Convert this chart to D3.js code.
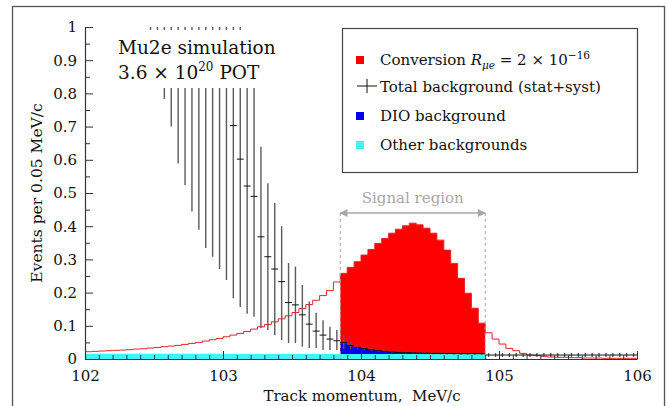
<!DOCTYPE html>
<html lang="en">
<head>
<meta charset="utf-8">
<title>Mu2e signal region</title>
<script src="https://cdn.jsdelivr.net/npm/d3@7"></script>
<style>
  body { margin: 0; background: #fff; }
  text { font-family: "DejaVu Serif", serif; fill: #111; }
</style>
</head>
<body>
<script>
// histogram binning: 0.05 MeV/c bins from 102 to 106
var binLow = 102, binWidth = 0.05;

// conversion signal, R_mue = 2e-16, one value per bin (80 bins)
var conversion = [
  0.022,0.023,0.024,0.025,0.026,0.027,0.028,0.030,0.031,0.033,
  0.035,0.037,0.039,0.041,0.044,0.047,0.050,0.054,0.058,0.062,
  0.067,0.072,0.077,0.083,0.090,0.097,0.104,0.112,0.121,0.130,
  0.140,0.152,0.164,0.177,0.191,0.206,0.232,
  0.258,0.276,0.293,0.313,0.330,0.348,0.363,0.379,0.391,0.401,
  0.409,0.404,0.394,0.379,0.358,0.328,0.288,0.243,0.198,0.153,0.108,
  0.079,0.060,0.045,0.032,0.025,0.017,0.012,0.010,0.008,0.006,
  0.005,0.005,0.004,0.004,0.003,0.003,0.003,0.002,0.002,0.002,0.002,0.002
];

// signal region (bins 37..57 = 103.85 .. 104.90)
var signalFirst = 37, signalLast = 57;
var signalRange = [103.85, 104.90];

// DIO background, signal region bins only
var dioBg = [0.032,0.025,0.020,0.016,0.013,0.010,0.008,0.006,0.005,0.004,0.0035,
             0.003,0.0025,0.002,0.0018,0.0015,0.0013,0.0011,0.0010,0.0009,0.0008];

// other backgrounds, bins 0..57
var otherBg = [
  0.016,0.016,0.016,0.016,0.016,0.016,0.016,0.016,0.016,0.016,
  0.016,0.016,0.016,0.016,0.016,0.016,0.016,0.016,0.016,0.016,
  0.015,0.015,0.015,0.015,0.015,0.015,0.015,0.015,0.015,0.015,
  0.015,0.015,0.015,0.015,0.015,0.015,0.015,0.015,0.015,0.015,
  0.015,0.015,0.015,0.015,0.015,0.015,0.015,0.015,0.015,0.015,
  0.015,0.015,0.015,0.015,0.015,0.015,0.015,0.015
];

// total background (stat+syst), bins 9..79: value, lower and upper end of error bar
var bgFirst = 9;
var bgVal = [
  3.5,3.1,2.7,2.4,2.1,1.85,1.6,1.4,1.2,1.05,0.95,0.84,0.703,0.602,0.521,0.490,
  0.368,0.308,0.271,0.233,0.170,0.163,0.133,0.105,0.084,0.072,0.060,0.055,
  0.050,0.041,0.035,0.031,0.028,0.025,0.023,0.021,0.020,0.019,0.0185,0.018,0.0175,
  0.017,0.017,0.0165,0.0163,0.016,0.016,0.016,0.016,
  0.012,0.012,0.012,0.012,0.012,0.012,0.012,0.012,0.012,0.012,0.012,
  0.012,0.012,0.012,0.012,0.012,0.012,0.012,0.012,0.012,0.012,0.012
];
var bgLo = [
  0.90,0.83,0.783,0.700,0.589,0.524,0.444,0.389,0.334,0.308,0.271,0.238,0.183,0.157,0.136,0.127,
  0.093,0.087,0.072,0.057,0.048,0.048,0.037,0.033,0.033,0.027,0.027,0.027,
  0.030,0.030,0.029,0.027,0.025,0.022,0.020,0.018,0.017,0.016,0.0155,0.015,0.0145,
  0.014,0.014,0.0135,0.0133,0.013,0.013,0.013,0.013,
  0.006,0.006,0.006,0.006,0.006,0.006,0.006,0.006,0.006,0.006,0.006,
  0.006,0.006,0.006,0.006,0.006,0.006,0.006,0.006,0.006,0.006,0.006
];
var bgHi = [
  5.0,4.6,4.2,3.8,3.4,3.0,2.7,2.4,2.1,1.9,1.7,1.5,1.35,1.2,0.90,0.88,
  0.639,0.529,0.470,0.400,0.289,0.278,0.223,0.173,0.139,0.117,0.097,0.087,
  0.072,0.054,0.043,0.036,0.032,0.028,0.026,0.024,0.023,0.022,0.0215,0.021,0.0205,
  0.020,0.020,0.0195,0.0193,0.019,0.019,0.019,0.019,
  0.018,0.018,0.018,0.018,0.018,0.018,0.018,0.018,0.018,0.018,0.018,
  0.018,0.018,0.018,0.018,0.018,0.018,0.018,0.018,0.018,0.018,0.018
];

var xTicks = [102, 103, 104, 105, 106];
var yTicks = [0, 0.1, 0.2, 0.3, 0.4, 0.5, 0.6, 0.7, 0.8, 0.9, 1];
var yLabels = ["0","0.1","0.2","0.3","0.4","0.5","0.6","0.7","0.8","0.9","1"];

var W = 667, H = 406;
var svg = d3.select("body").append("svg").attr("width", W).attr("height", H);

var x = d3.scaleLinear().domain([102, 106]).range([85, 637]);
var y = d3.scaleLinear().domain([0, 1]).range([359, 27]);

function edge(k) { return binLow + binWidth * k; }

// outer frame
svg.append("rect").attr("x", 12.5).attr("y", 6.5).attr("width", 652).attr("height", 420)
  .attr("fill", "none").attr("stroke", "#555").attr("stroke-width", 1.3);

svg.append("clipPath").attr("id", "plotclip").append("rect")
  .attr("x", x(102)).attr("y", y(1)).attr("width", x(106) - x(102)).attr("height", y(0) - y(1));

var plot = svg.append("g").attr("clip-path", "url(#plotclip)");

// step helpers
function stepPoints(vals, first) {
  var pts = vals.map(function(v, i) { return [edge(first + i), v]; });
  pts.push([edge(first + vals.length), vals[vals.length - 1]]);
  return pts;
}
var stepLine = d3.line().x(function(d) { return x(d[0]); }).y(function(d) { return y(d[1]); })
  .curve(d3.curveStepAfter);

// conversion fill in the signal region
var sigVals = conversion.slice(signalFirst, signalLast + 1);
var area = d3.area().x(function(d) { return x(d[0]); })
  .y0(function(d) { return y(d[2] || 0); }).y1(function(d) { return y(d[1]); })
  .curve(d3.curveStepAfter);
plot.append("path").attr("d", area(stepPoints(sigVals, signalFirst)))
  .attr("fill", "#ff0000");

// conversion outline over whole range
plot.append("path").attr("d", stepLine(stepPoints(conversion, 0)))
  .attr("fill", "none").attr("stroke", "#e8222a").attr("stroke-width", 1);

// DIO stacked on the other backgrounds
var dioPts = dioBg.map(function(v, i) {
  var o = otherBg[signalFirst + i];
  return [edge(signalFirst + i), o + v, o];
});
dioPts.push([edge(signalLast + 1), dioPts[dioPts.length - 1][1], dioPts[dioPts.length - 1][2]]);
plot.append("path").attr("d", area(dioPts)).attr("fill", "#0000ee");

// other backgrounds
plot.append("path").attr("d", area(stepPoints(otherBg, 0))).attr("fill", "#3ef4f4");

// total background error bars
var bg = bgVal.map(function(v, i) {
  var k = bgFirst + i;
  return { lo: edge(k), c: edge(k) + binWidth / 2, hi: edge(k + 1), v: v, eLo: bgLo[i], eHi: bgHi[i] };
});
plot.selectAll(".ebar").data(bg).enter().append("line")
  .attr("x1", function(d) { return x(d.c); }).attr("x2", function(d) { return x(d.c); })
  .attr("y1", function(d) { return y(d.eLo); }).attr("y2", function(d) { return y(d.eHi); })
  .attr("stroke", "#5a5a5a").attr("stroke-width", 1.4);
plot.selectAll(".cbar").data(bg).enter().append("line")
  .attr("x1", function(d) { return x(d.lo); }).attr("x2", function(d) { return x(d.hi); })
  .attr("y1", function(d) { return y(d.v); }).attr("y2", function(d) { return y(d.v); })
  .attr("stroke", "#111").attr("stroke-width", 1);

// signal region marker
var grey = "#a8a8a8";
var defs = svg.append("defs");
defs.append("marker").attr("id", "arr").attr("viewBox", "0 0 10 10")
  .attr("refX", 9).attr("refY", 5).attr("markerWidth", 10).attr("markerHeight", 8)
  .attr("markerUnits", "userSpaceOnUse").attr("orient", "auto-start-reverse")
  .append("path").attr("d", "M0,0L10,5L0,10z").attr("fill", grey);
var arrowY = 213;
signalRange.forEach(function(p) {
  svg.append("line").attr("x1", x(p)).attr("x2", x(p)).attr("y1", arrowY).attr("y2", y(0))
    .attr("stroke", grey).attr("stroke-width", 1).attr("stroke-dasharray", "3,3");
});
svg.append("line").attr("x1", x(signalRange[0])).attr("x2", x(signalRange[1]))
  .attr("y1", arrowY).attr("y2", arrowY).attr("stroke", grey).attr("stroke-width", 1.5)
  .attr("marker-start", "url(#arr)").attr("marker-end", "url(#arr)");
svg.append("text").attr("x", (x(signalRange[0]) + x(signalRange[1])) / 2).attr("y", 203)
  .attr("text-anchor", "middle").style("font-size", "15px").style("fill", grey)
  .text("Signal region");

// axes
var yAxis = d3.axisLeft(y).tickValues(yTicks).tickSizeInner(-8).tickSizeOuter(0).tickPadding(8)
  .tickFormat(function(d, i) { return yLabels[i]; });
var yMinor = d3.axisLeft(y).tickValues(d3.range(0.05, 1, 0.1)).tickSize(-5).tickFormat("");
var xAxis = d3.axisBottom(x).tickValues(xTicks).tickSizeInner(-8).tickSizeOuter(0).tickPadding(11)
  .tickFormat(d3.format("d"));
var xMinor = d3.axisBottom(x).tickValues(d3.range(102.1, 106, 0.1)).tickSize(-4).tickFormat("");

function styleAxis(g) {
  g.select(".domain").attr("stroke", "#333").attr("stroke-width", 1.2);
  g.selectAll(".tick line").attr("stroke", "#333");
  g.selectAll("text").style("font-family", "DejaVu Serif").style("font-size", "15px").attr("fill", "#111");
}
svg.append("g").attr("transform", "translate(" + x(102) + ",0)").call(yMinor).call(styleAxis)
  .select(".domain").remove();
svg.append("g").attr("transform", "translate(0," + y(0) + ")").call(xMinor).call(styleAxis)
  .select(".domain").remove();
svg.append("g").attr("transform", "translate(" + x(102) + ",0)").call(yAxis).call(styleAxis);
svg.append("g").attr("transform", "translate(0," + y(0) + ")").call(xAxis).call(styleAxis);

svg.append("text").attr("x", 362).attr("y", 401).attr("text-anchor", "middle")
  .style("font-size", "15px").text("Track momentum,\u00a0\u00a0MeV/c");
svg.append("text").attr("transform", "translate(42,193) rotate(-90)").attr("text-anchor", "middle")
  .style("font-size", "15.5px").text("Events per 0.05 MeV/c");

// simulation label pave
svg.append("rect").attr("x", 112).attr("y", 30).attr("width", 178).attr("height", 58).attr("fill", "#fff");
svg.append("text").attr("x", 118).attr("y", 54).style("font-size", "18.5px").text("Mu2e simulation");
var pot = svg.append("text").attr("x", 118).attr("y", 79).style("font-size", "18.5px");
pot.append("tspan").text("3.6 \u00d7 10");
pot.append("tspan").attr("dy", -8).style("font-size", "12px").text("20");
pot.append("tspan").attr("dy", 8).text(" POT");

// legend
var lg = svg.append("g");
lg.append("rect").attr("x", 342.5).attr("y", 28.5).attr("width", 295).attr("height", 144)
  .attr("fill", "#fff").attr("stroke", "#444").attr("stroke-width", 1.2);
var legendRows = [
  { key: "conv", color: "#ff0000", y: 65 },
  { key: "total", color: null, y: 92 },
  { key: "dio", color: "#0000ee", y: 121 },
  { key: "other", color: "#3ef4f4", y: 150 }
];
legendRows.forEach(function(r) {
  if (r.color) {
    lg.append("rect").attr("x", 356).attr("y", r.y - 9).attr("width", 8).attr("height", 8).attr("fill", r.color);
  } else {
    lg.append("line").attr("x1", 357).attr("x2", 377).attr("y1", r.y - 6).attr("y2", r.y - 6).attr("stroke", "#111");
    lg.append("line").attr("x1", 367).attr("x2", 367).attr("y1", r.y - 13).attr("y2", r.y + 1).attr("stroke", "#111");
  }
});
var t1 = lg.append("text").attr("x", 380).attr("y", 65).style("font-size", "15px");
t1.append("tspan").text("Conversion ");
t1.append("tspan").style("font-style", "italic").text("R");
t1.append("tspan").attr("dy", 4).style("font-style", "italic").style("font-size", "10.5px").text("\u03bce");
t1.append("tspan").attr("dy", -4).text(" = 2 \u00d7 10");
t1.append("tspan").attr("dy", -6).style("font-size", "10.5px").text("\u221216");
lg.append("text").attr("x", 380).attr("y", 92).style("font-size", "15px").text("Total background (stat+syst)");
lg.append("text").attr("x", 380).attr("y", 121).style("font-size", "15px").text("DIO background");
lg.append("text").attr("x", 380).attr("y", 150).style("font-size", "15px").text("Other backgrounds");
</script>
</body>
</html>
